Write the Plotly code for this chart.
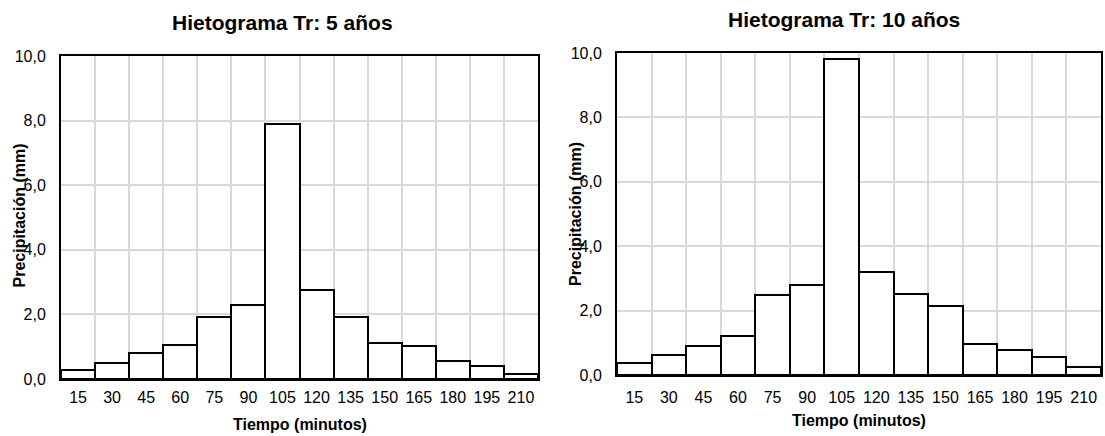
import plotly.graph_objects as go

tiempo = ["15", "30", "45", "60", "75", "90", "105", "120", "135", "150", "165", "180", "195", "210"]
precip_tr5 = [0.29, 0.49, 0.81, 1.05, 1.91, 2.29, 7.90, 2.76, 1.93, 1.11, 1.01, 0.56, 0.41, 0.15]
precip_tr10 = [0.38, 0.62, 0.89, 1.21, 2.47, 2.78, 9.81, 3.21, 2.51, 2.13, 0.95, 0.77, 0.55, 0.26]

titulo_1 = "Hietograma Tr: 5 años"
titulo_2 = "Hietograma Tr: 10 años"
titulo_x = "Tiempo (minutos)"
titulo_y = "Precipitación (mm)"

FONT = "Liberation Sans, Arial, sans-serif"
W, H = 1105, 436

fig = go.Figure()
for data, xa, ya in [(precip_tr5, "x", "y"), (precip_tr10, "x2", "y2")]:
    fig.add_trace(go.Bar(
        x=tiempo, y=data, xaxis=xa, yaxis=ya,
        marker=dict(color="white", line=dict(color="black", width=2)),
        showlegend=False, hoverinfo="x+y",
    ))

def px_x(v):
    return v / W

def px_y(v):
    return (H - v) / H

xcommon = dict(
    type="category", tickson="boundaries", showgrid=True, gridcolor="#d9d9d9", gridwidth=1.5,
    showline=True, linecolor="black", linewidth=2, mirror=True, ticks="", tickangle=0,
    tickfont=dict(family=FONT, size=16, color="black"), automargin=False,
)
ycommon = dict(
    range=[0, 10], dtick=2, tickformat=".1f", showgrid=True, gridcolor="#d9d9d9", gridwidth=1.5,
    showline=True, linecolor="black", linewidth=2, mirror=True, ticks="", zeroline=False,
    tickfont=dict(family=FONT, size=16, color="black"), ticklabelstandoff=10, automargin=False,
)

fig.update_layout(
    width=W, height=H, margin=dict(l=0, r=0, t=0, b=0, pad=0, autoexpand=False),
    paper_bgcolor="white", plot_bgcolor="white", bargap=0,
    separators=",.",
    xaxis=dict(domain=[px_x(61), px_x(538)], anchor="y", ticklabelstandoff=3, **xcommon),
    yaxis=dict(domain=[px_y(379), px_y(56)], anchor="x", **ycommon),
    xaxis2=dict(domain=[px_x(617), px_x(1101)], anchor="y2", ticklabelstandoff=7, **xcommon),
    yaxis2=dict(domain=[px_y(375), px_y(53)], anchor="x2", **ycommon),
)

ann = []
tfont = dict(family=FONT, size=21, color="black")
afont = dict(family=FONT, size=16, color="black")
ann.append(dict(text="<b>" + titulo_1 + "</b>", x=px_x(282), y=px_y(23), font=tfont))
ann.append(dict(text="<b>" + titulo_2 + "</b>", x=px_x(844), y=px_y(19), font=tfont))
ann.append(dict(text="<b>" + titulo_x + "</b>", x=px_x(300), y=px_y(424), font=afont))
ann.append(dict(text="<b>" + titulo_x + "</b>", x=px_x(859), y=px_y(420), font=afont))
ann.append(dict(text="<b>" + titulo_y + "</b>", x=px_x(18.5), y=px_y(216), font=afont, textangle=-90))
ann.append(dict(text="<b>" + titulo_y + "</b>", x=px_x(575), y=px_y(214), font=afont, textangle=-90))
for a in ann:
    a.update(xref="paper", yref="paper", xanchor="center", yanchor="middle", showarrow=False)
fig.update_layout(annotations=ann)

fig.write_html("out.html")
